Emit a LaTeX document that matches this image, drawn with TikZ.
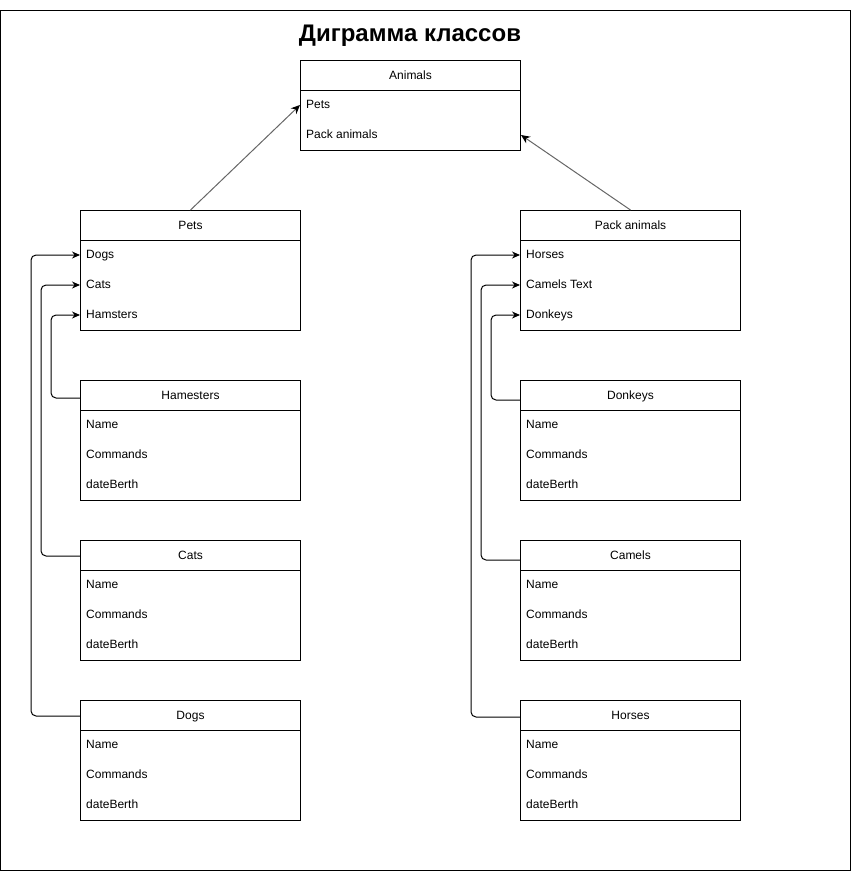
\documentclass[tikz,border=0pt]{standalone}
\usepackage{fontspec}
\setmainfont{Liberation Sans}
\usetikzlibrary{arrows.meta,calc}
\tikzset{
  box/.style={draw, line width=1pt, minimum width=220pt, anchor=north west, inner sep=0pt},
  ttl/.style={font=\fontsize{12}{14}\selectfont, inner sep=0pt, text height=8.6pt, text depth=2.6pt},
  itm/.style={anchor=west, font=\fontsize{12}{14}\selectfont, inner sep=0pt, text height=8.6pt, text depth=2.6pt},
  conn/.style={line width=1pt, rounded corners=5pt, -{Stealth[length=8pt,width=7pt]}},
  inh/.style={line width=1pt, draw=black!60, -{Stealth[length=9pt,width=8pt,color=black,fill=black]}},
}
\newcommand{\classbox}[6]{%
  \node[box, minimum height=#4pt] (#1) at (#2,#3) {};
  \draw[line width=1pt] ($(#1.north west)+(0,30)$) -- ($(#1.north east)+(0,30)$);
  \node[ttl] (#1-t) at ($(#1.north)+(0,16)$) {#5};
  \foreach \txt [count=\i] in {#6} {
    \node[itm] (#1-\i) at ($(#1.north west)+(6,15+30*\i)$) {\txt};
  }
}
\begin{document}
\begin{tikzpicture}[x=1pt,y=-1pt]
\useasboundingbox (0,0) rectangle (851,871);
\draw[line width=1pt] (0.5,10.5) rectangle (850,870);
\node[font=\bfseries\fontsize{24}{28}\selectfont] (title) at (410,36) {Диграмма классов};

\classbox{animals}{300}{60}{90}{Animals}{Pets,Pack animals}
\classbox{pets}{80}{210}{120}{Pets}{Dogs,Cats,Hamsters}
\classbox{pack}{520}{210}{120}{Pack animals}{Horses,Camels Text,Donkeys}
\classbox{ham}{80}{380}{120}{Hamesters}{Name,Commands,dateBerth}
\classbox{cats}{80}{540}{120}{Cats}{Name,Commands,dateBerth}
\classbox{dogs}{80}{700}{120}{Dogs}{Name,Commands,dateBerth}
\classbox{donk}{520}{380}{120}{Donkeys}{Name,Commands,dateBerth}
\classbox{cam}{520}{540}{120}{Camels}{Name,Commands,dateBerth}
\classbox{hor}{520}{700}{120}{Horses}{Name,Commands,dateBerth}

% inheritance arrows
\draw[inh] (pets.north) -- (animals-1 -| animals.west);
\draw[inh] (pack.north) -- (animals-2 -| animals.east);

% left connectors
\draw[conn] ([yshift=-2pt]ham.west |- ham-t) -- ++(-29,0) |- (pets-3 -| pets.west);
\draw[conn] (cats.west |- cats-t) -- ++(-39,0) |- (pets-2 -| pets.west);
\draw[conn] (dogs.west |- dogs-t) -- ++(-49,0) |- (pets-1 -| pets.west);
% right connectors
\draw[conn] ([yshift=-4pt]donk.west |- donk-t) -- ++(-29,0) |- (pack-3 -| pack.west);
\draw[conn] ([yshift=-4pt]cam.west |- cam-t) -- ++(-39,0) |- (pack-2 -| pack.west);
\draw[conn] ([yshift=-1pt]hor.west |- hor-t) -- ++(-49,0) |- (pack-1 -| pack.west);
\end{tikzpicture}
\end{document}
